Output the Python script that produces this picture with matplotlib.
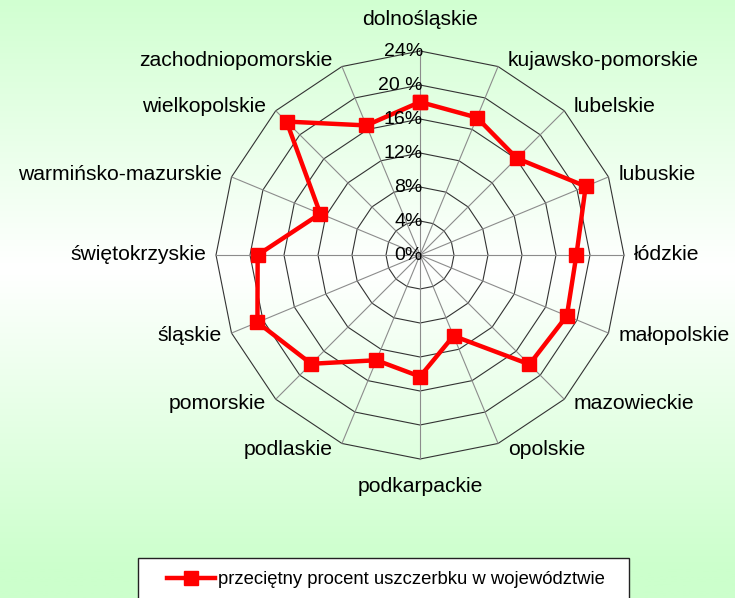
import numpy as np
import matplotlib
matplotlib.use('Agg')
import matplotlib.pyplot as plt
from matplotlib.patches import Rectangle

plt.rcParams['font.family'] = ['Liberation Sans', 'DejaVu Sans']

# Data (clockwise from the top)
regions = ['dolnośląskie', 'kujawsko-pomorskie', 'lubelskie', 'lubuskie', 'łódzkie',
           'małopolskie', 'mazowieckie', 'opolskie', 'podkarpackie', 'podlaskie',
           'pomorskie', 'śląskie', 'świętokrzyskie', 'warmińsko-mazurskie',
           'wielkopolskie', 'zachodniopomorskie']
values = [18.0, 17.5, 16.1, 21.1, 18.4, 18.7, 18.2, 10.3, 14.3, 13.4,
          18.1, 20.7, 19.1, 12.7, 22.2, 16.5]
ticks = [0, 4, 8, 12, 16, 20, 24]
tick_labels = ['0%', '4%', '8%', '12%', '16%', '20 %', '24%']
series_name = 'przeciętny procent uszczerbku w województwie'

W, H = 735, 598
fig = plt.figure(figsize=(W / 100, H / 100), dpi=100)

# green-white-green background
bg = fig.add_axes([0, 0, 1, 1], zorder=-10)
ys = np.linspace(0, 1, 300)
t = np.clip(np.abs(ys - 0.45) / 0.5, 0, 1)
top = np.array([204, 255, 204]) / 255
white = np.array([1.0, 1.0, 1.0])
grad = white[None, :] * (1 - t[:, None]) + top[None, :] * t[:, None]
bg.imshow(grad[:, None, :], aspect='auto', extent=[0, 1, 1, 0])
bg.axis('off')

# radar axes: centre (420, 255) px, radius 204 px
cx, cy, R = 420, 255, 204
ax = fig.add_axes([(cx - R) / W, 1 - (cy + R) / H, 2 * R / W, 2 * R / H], projection='polar')
ax.set_theta_zero_location('N')
ax.set_theta_direction(-1)
ax.set_ylim(0, 24)
ax.grid(False)
ax.spines['polar'].set_visible(False)
ax.set_xticks([])
ax.set_yticks([])
ax.patch.set_alpha(0)

n = len(regions)
theta = np.arange(n) * 2 * np.pi / n
theta_closed = np.append(theta, theta[0])

# polygon rings
for r in ticks[1:]:
    ax.plot(theta_closed, [r] * (n + 1), color='#333333', lw=0.8, clip_on=False, zorder=1)
# spokes
for th in theta:
    ax.plot([th, th], [0, ticks[-1]], color='#8c8c8c', lw=0.8, clip_on=False, zorder=1)

# series
vals_closed = values + values[:1]
ax.plot(theta_closed, vals_closed, color='#ff0000', lw=3.2, marker='s', markersize=10,
        clip_on=False, zorder=3)

# radial tick labels
for r, lab in zip(ticks, tick_labels):
    ax.annotate(lab, xy=(0, r), xytext=(2, 0), textcoords='offset points',
                ha='right', va='center', fontsize=14, color='black', zorder=4)

# category labels
fs = 15.2
for th, name in zip(theta, regions):
    s, c = np.sin(th), np.cos(th)
    if abs(s) < 1e-6:
        if c > 0:
            ax.annotate(name, xy=(th, 24), xytext=(0, 16), textcoords='offset points',
                        ha='center', va='bottom', fontsize=fs)
        else:
            ax.annotate(name, xy=(th, 24), xytext=(0, -13), textcoords='offset points',
                        ha='center', va='top', fontsize=fs)
        continue
    ha = 'left' if s > 0 else 'right'
    ax.annotate(name, xy=(th, 24), xytext=(7 * np.sign(s), 4.5 * c),
                textcoords='offset points', ha=ha, va='center', fontsize=fs)

# legend box (extends past the bottom edge)
fig.patches.append(Rectangle((138 / W, -0.02), (629 - 138) / W, 0.02 + (H - 558) / H,
                             transform=fig.transFigure, facecolor='white',
                             edgecolor='#222222', lw=1, zorder=5))
line, = ax.plot([], [], color='#ff0000', lw=3.2, marker='s', markersize=10)
fig.legend([line], [series_name], loc='center left',
           bbox_to_anchor=(158 / W, 1 - 580 / H), frameon=False,
           fontsize=13.3, handlelength=2.6, handletextpad=0.15, borderpad=0)

fig.savefig('out.png', dpi=100)
